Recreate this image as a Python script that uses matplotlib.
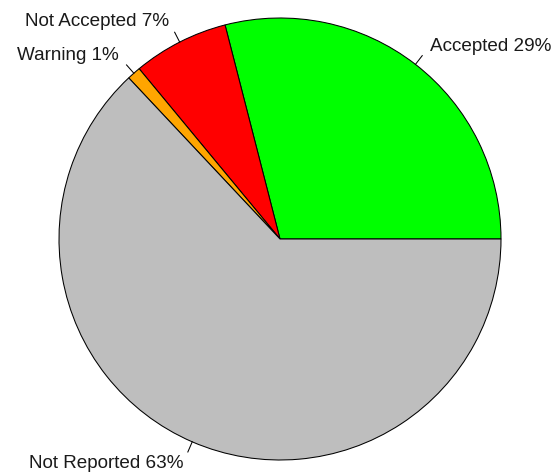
import matplotlib
matplotlib.use("Agg")
import matplotlib.pyplot as plt
import numpy as np

plt.rcParams["font.family"] = ["Liberation Sans", "DejaVu Sans"]

labels = ["Accepted 29%", "Not Accepted 7%", "Warning 1%", "Not Reported 63%"]
values = [29, 7, 1, 63]
colors = ["#00FF00", "#FF0000", "#FFA500", "#BEBEBE"]

W, H = 557, 473
cx, cy, R = 280, 239, 221

fig = plt.figure(figsize=(W / 100, H / 100), dpi=100)
ax = fig.add_axes([0, 0, 1, 1])
wedges, texts = ax.pie(values, labels=labels, colors=colors, startangle=0,
                       counterclock=True, radius=R, labeldistance=1.105,
                       wedgeprops=dict(edgecolor="black", linewidth=0.75),
                       textprops=dict(fontsize=13.6, color="#1a1a1a"))
# tick marks from the rim out to 1.05 r, like base R's pie()
for w in wedges:
    a = np.deg2rad((w.theta1 + w.theta2) / 2)
    ax.plot([R * np.cos(a), 1.05 * R * np.cos(a)],
            [R * np.sin(a), 1.05 * R * np.sin(a)], color="black", lw=0.75)

ax.set_xlim(-cx, W - cx)
ax.set_ylim(-(H - cy), cy)
ax.set_aspect("equal")
ax.axis("off")
fig.savefig("out.png", dpi=100)
